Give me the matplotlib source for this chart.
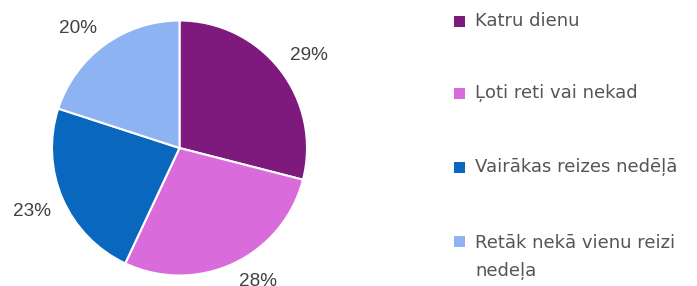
import matplotlib
matplotlib.use('Agg')
import numpy as np
import matplotlib.pyplot as plt
from matplotlib.patches import Rectangle

# dati
kategorijas = ['Katru dienu', 'Ļoti reti vai nekad', 'Vairākas reizes nedēļā',
               'Retāk nekā vienu reizi\nnedeļa']
vertibas = [29, 28, 23, 20]
krasas = ['#7e1a7e', '#da6bda', '#0a67be', '#8db3f2']

W, H = 697, 286
fig = plt.figure(figsize=(W / 100, H / 100), dpi=100)

# pie zona pikseļos: centrs (179.5, 148), rādiuss 127.5
cx, cy, r = 179.5, 148, 127.5
ax = fig.add_axes([(cx - r) / W, (H - cy - r) / H, 2 * r / W, 2 * r / H])
wedges, _ = ax.pie(vertibas, colors=krasas, startangle=90, counterclock=False,
                   radius=1, wedgeprops=dict(edgecolor='white', linewidth=1.5))
ax.set_xlim(-1, 1)
ax.set_ylim(-1, 1)
ax.set_aspect('equal')
ax.axis('off')

# procentu etiķetes ārpus apļa, kā Google Charts
kopa = sum(vertibas)
for w, v in zip(wedges, vertibas):
    ang = np.deg2rad((w.theta1 + w.theta2) / 2)
    x, y = 1.1 * np.cos(ang), 1.08 * np.sin(ang)
    ax.text(x, y, f'{round(100 * v / kopa)}%',
            ha='left' if x > 0 else 'right', va='bottom' if y > 0 else 'top',
            fontsize=13.7, color='#404040', family='Liberation Sans', clip_on=False)

# leģenda (kvadrātiņš pie pirmās rindas bāzes līnijas)
bazes_y = [26, 98, 172, 246]
rindas_solis = 30
for nosaukums, kr, y in zip(kategorijas, krasas, bazes_y):
    fig.patches.append(Rectangle((454 / W, (H - y - 1) / H), 11 / W, 11 / H,
                                 transform=fig.transFigure, facecolor=kr,
                                 edgecolor='none'))
    pedeja = y + rindas_solis * nosaukums.count('\n')
    fig.text(475 / W, (H - pedeja) / H, nosaukums, ha='left', va='baseline',
             fontsize=13, color='#555555', family='DejaVu Sans', linespacing=1.75)

fig.savefig('out.png', dpi=100)
